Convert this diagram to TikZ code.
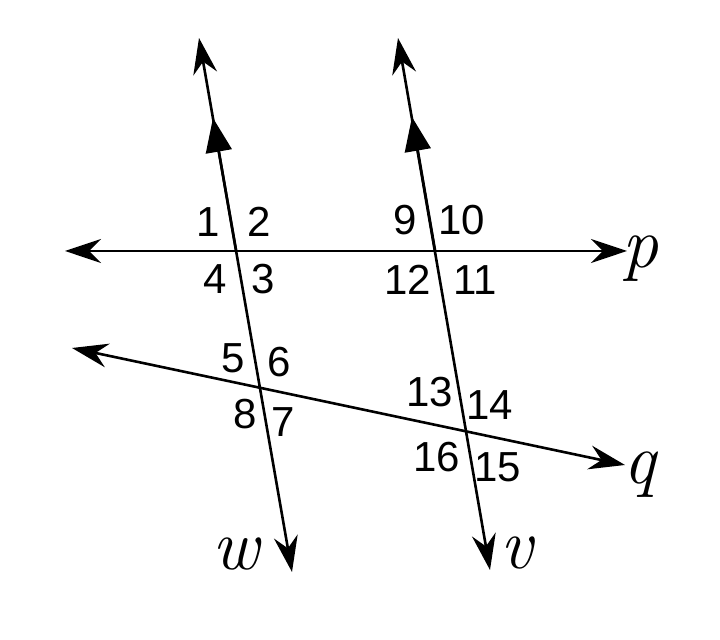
\documentclass[tikz,border=0pt]{standalone}
\usepackage{fontspec}
\usepackage{tikz}
\usetikzlibrary{arrows.meta}
\newfontfamily\numfont{Liberation Sans}
\tikzset{
    ray/.style={line width=1.3pt, {Stealth[length=18pt,width=12pt,inset=6pt]}-{Stealth[length=18pt,width=12pt,inset=6pt]}},
    parmark/.style={line width=1.3pt, -{Triangle[length=17pt,width=13pt]}},
    num/.style={font=\numfont\fontsize{21}{24}\selectfont, inner sep=0pt},
    lbl/.style={font=\fontsize{36}{40}\selectfont\itshape, inner sep=0pt}
}

\begin{document}
\begin{tikzpicture}[x=0.5pt, y=-0.5pt]
                        \useasboundingbox (0, 0) rectangle (720, 640);
                        \coordinate (wtop) at (199, 38);
                        \coordinate (wbot) at (292, 572);
                        \coordinate (vtop) at (398, 38);
                        \coordinate (vbot) at (490, 570);
                        \coordinate (pleft) at (65, 251);
                        \coordinate (pright) at (627, 251);
                        \coordinate (qleft) at (72, 348);
                        \coordinate (qright) at (625, 465);
                        \coordinate (wp) at (236, 250);
                        \coordinate (vp) at (435, 250);
                        \coordinate (wmark) at (213, 118);
                        \coordinate (vmark) at (412, 117);
                        \draw[ray] (pleft) -- (pright);
                        \draw[ray] (qleft) -- (qright);
                        \draw[ray] (wbot) -- (wtop);
                        \draw[ray] (vbot) -- (vtop);
                        \draw[parmark] (wp) -- (wmark);
                        \draw[parmark] (vp) -- (vmark);
                        \node[lbl] (p) at (641, 259) {p};
                        \node[lbl] (q) at (640, 475) {q};
                        \node[lbl] (w) at (236, 554) {w};
                        \node[lbl] (v) at (517, 553) {v};
                        \node[num] (a1) at (208, 222) {1};
                        \node[num] (a2) at (259, 222) {2};
                        \node[num] (a3) at (263, 279) {3};
                        \node[num] (a4) at (215, 279) {4};
                        \node[num] (a5) at (233, 358) {5};
                        \node[num] (a6) at (279, 362) {6};
                        \node[num] (a7) at (283, 422) {7};
                        \node[num] (a8) at (245, 414) {8};
                        \node[num] (a9) at (405, 220) {9};
                        \node[num] (a10) at (462, 220) {10};
                        \node[num] (a11) at (475, 280) {11};
                        \node[num] (a12) at (408, 280) {12};
                        \node[num] (a13) at (430, 392) {13};
                        \node[num] (a14) at (490, 405) {14};
                        \node[num] (a15) at (498, 467) {15};
                        \node[num] (a16) at (437, 457) {16};
                    \end{tikzpicture}
\end{document}
